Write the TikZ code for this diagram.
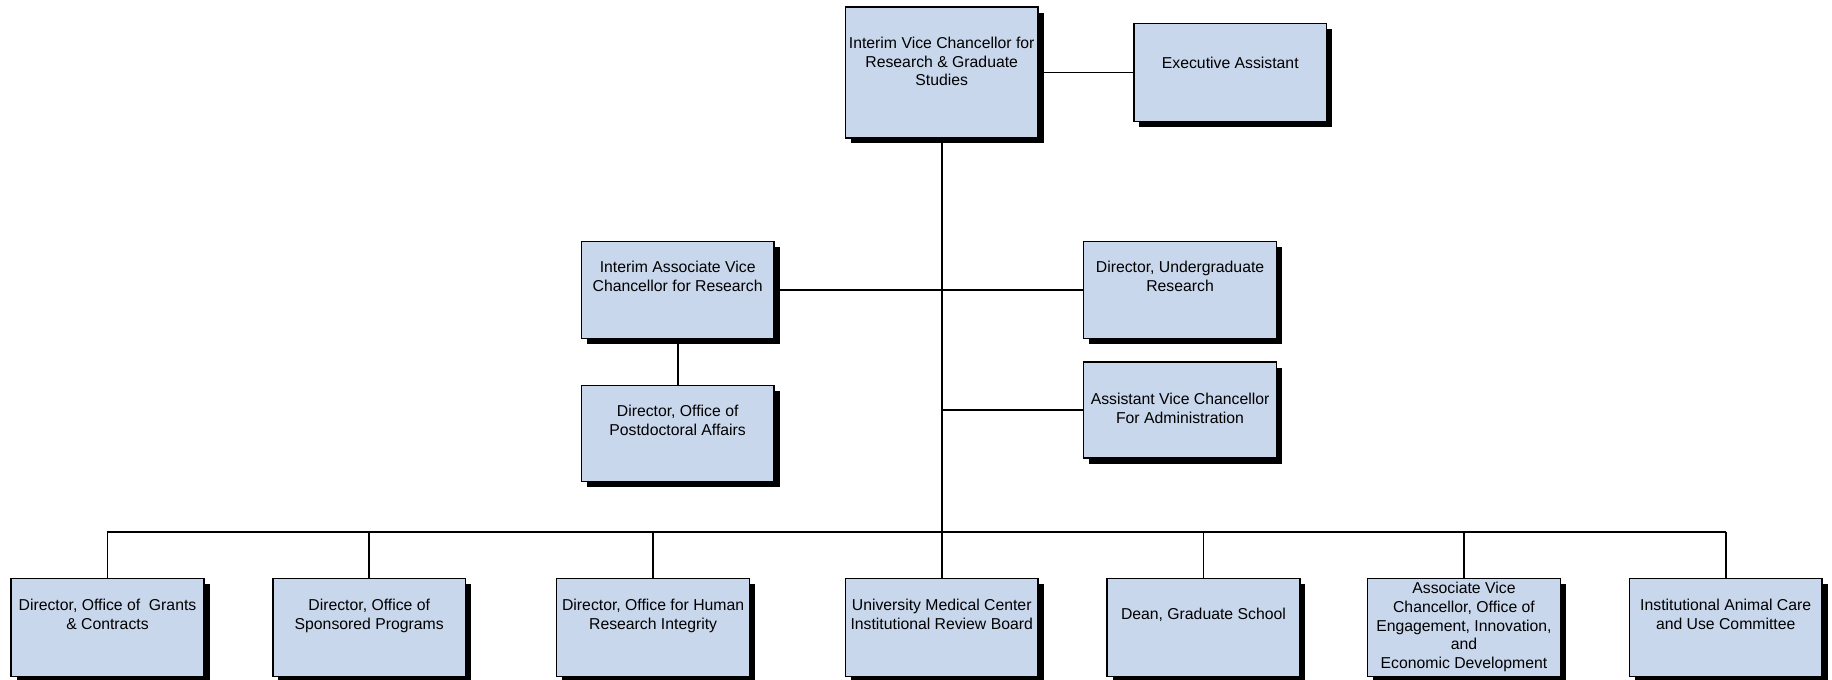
\documentclass[tikz,border=0pt]{standalone}
\usepackage{fontspec}
\setmainfont{Liberation Sans}
\usepackage{tikz}
\usetikzlibrary{shadows, calc}
\usepackage{xcolor}
\definecolor{org-blue}{RGB}{201,215,236}
\newcommand{\boxlines}[2][7pt]{\raisebox{#1}[\height][\depth]{\begin{tabular}{@{}c@{}}#2\end{tabular}}}

\tikzset{orgbox/.style={draw=black, line width=0.9pt, fill=org-blue, minimum width=4.125cm, minimum height=2.1cm, inner sep=0pt, font=\fontsize{9.6}{11.4}\selectfont, drop shadow={shadow xshift=0.12cm, shadow yshift=-0.12cm, fill=black, opacity=1}}}

\begin{document}
\begin{tikzpicture}[x=0.025cm, y=-0.025cm, line width=1.1pt]
					\useasboundingbox (0,0) rectangle (1568,582);
					
					\node[orgbox, minimum height=2.8cm] at (806,62) (vc) {\boxlines[5.5pt]{Interim Vice Chancellor for\\Research \& Graduate\\Studies}};
					\node[orgbox] at (1053,62) (exec) {\boxlines[4.5pt]{Executive Assistant}};
					
					\node[orgbox, minimum height=2.075cm] at (580,248) (avcr) {\boxlines{Interim Associate Vice\\Chancellor for Research}};
					\node[orgbox, minimum height=2.075cm] at (1010,248) (ugr) {\boxlines{Director, Undergraduate\\Research}};
					\node[orgbox, minimum height=2.05cm] at (580,371) (postdoc) {\boxlines{Director, Office of\\Postdoctoral Affairs}};
					\node[orgbox, minimum height=2.05cm] at (1010,351) (avca) {\boxlines[0pt]{Assistant Vice Chancellor\\For Administration}};
					
					\node[orgbox] at (92,537) (b1) {\boxlines{Director, Office of\ \ Grants\\\& Contracts}};
					\node[orgbox] at (316,537) (b2) {\boxlines{Director, Office of\\Sponsored Programs}};
					\node[orgbox] at (559,537) (b3) {\boxlines{Director, Office for Human\\Research Integrity}};
					\node[orgbox] at (806,537) (b4) {\boxlines{University Medical Center\\Institutional Review Board}};
					\node[orgbox] at (1030,537) (b5) {\boxlines{Dean, Graduate School}};
					\node[orgbox] at (1253,537) (b6) {\boxlines[0pt]{Associate Vice\\Chancellor, Office of\\Engagement, Innovation,\\and\\Economic Development}};
					\node[orgbox] at (1477,537) (b7) {\boxlines{Institutional Animal Care\\and Use Committee}};
					
					\draw (vc) -- (exec);
					\draw (vc) -- (b4);
					\draw (avcr) -- (ugr);
					\draw (avcr) -- (postdoc);
					\draw (avca.west) -- (avca.west -| vc.south);
					
					\coordinate (bus) at (806,455);
					\draw (b1.north |- bus) -- (b7.north |- bus);
					\foreach \b in {b1,b2,b3,b5,b6,b7}
						\draw (\b.north) -- (\b.north |- bus);
				\end{tikzpicture}
\end{document}
